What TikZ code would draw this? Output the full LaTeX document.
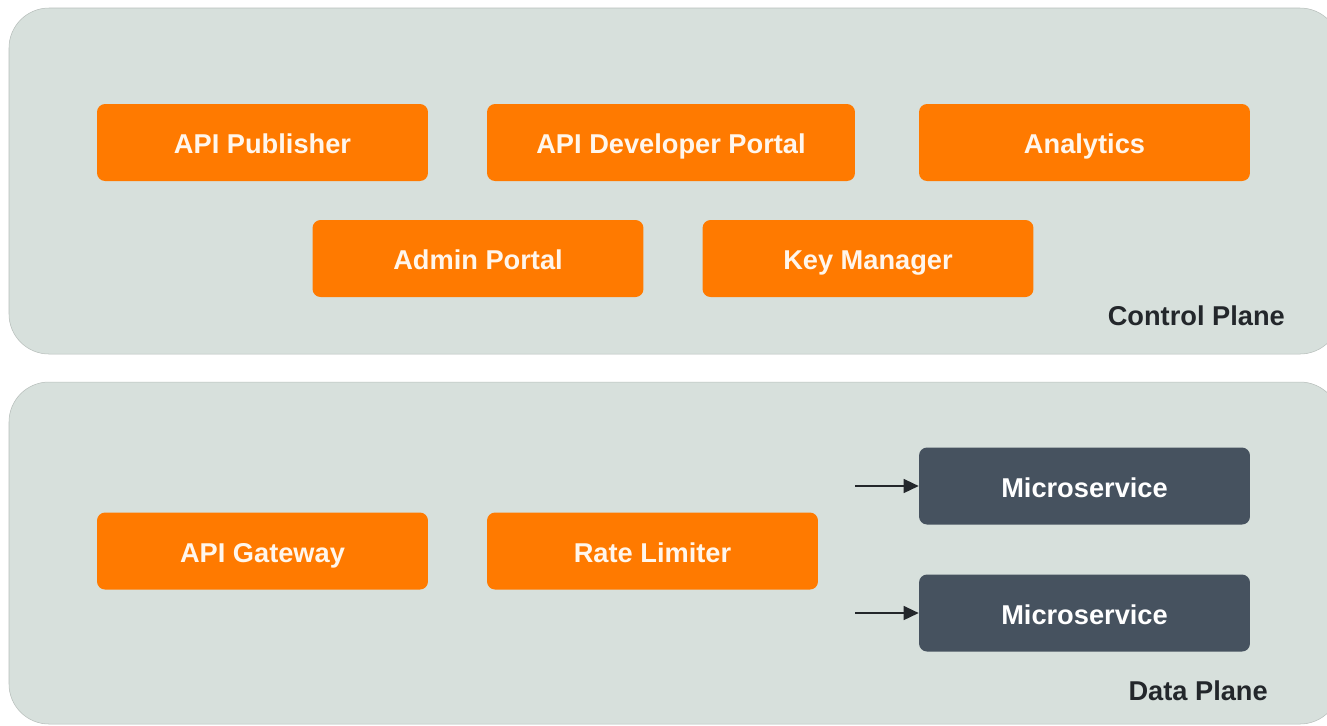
\documentclass[tikz,border=0pt]{standalone}
\usepackage{fontspec}
\setmainfont{Liberation Sans}
\usepackage{tikz}
\usetikzlibrary{arrows.meta}

\definecolor{panelgray}{HTML}{D7E0DC}
\definecolor{apiorange}{HTML}{FF7A00}
\definecolor{slate}{HTML}{46525F}
\definecolor{labelink}{HTML}{23272B}
\definecolor{boxtext}{HTML}{FFF6EC}

\tikzset{
    plane/.style={fill=panelgray, draw=panelgray!85!black, line width=0.3pt, rounded corners=0.8cm},
    compbox/.style={fill=apiorange, rounded corners=0.16cm, minimum width=6.62cm, minimum height=1.54cm,
        text=boxtext, font=\fontsize{15.5}{18}\selectfont\bfseries, text height=13pt, text depth=0pt},
    svcbox/.style={compbox, fill=slate, text=white},
    planelabel/.style={text=labelink, font=\fontsize{15.5}{18}\selectfont\bfseries, anchor=east},
    feed/.style={labelink, line width=0.8pt, -{Triangle[length=3mm, width=2.8mm]}}
}

\begin{document}
\begin{tikzpicture}[x=0.02cm, y=-0.02cm]
            \useasboundingbox (0, 0) rectangle (1327, 725);
            \clip (0, 0) rectangle (1327, 725);
            % the two planes
            \path[plane] (9, 8) rectangle (1340, 354);
            \path[plane] (9, 382) rectangle (1340, 724);

            % control plane
            \node[compbox] (pub) at (262.5, 142.5) {API Publisher};
            \node[compbox, minimum width=7.36cm] (devportal) at (671, 142.5) {API Developer Portal};
            \node[compbox] (analytics) at (1084.5, 142.5) {Analytics};
            \node[compbox] (admin) at (478, 258.5) {Admin Portal};
            \node[compbox] (keymgr) at (868, 258.5) {Key Manager};
            \node[planelabel] (ctrl) at (1291, 316) {Control Plane};

            % data plane
            \node[compbox] (gateway) at (262.5, 551) {API Gateway};
            \node[compbox] (ratelim) at (652.5, 551) {Rate Limiter};
            \node[svcbox] (ms1) at (1084.5, 486) {Microservice};
            \node[svcbox] (ms2) at (1084.5, 613) {Microservice};
            \node[planelabel] (data) at (1274, 691) {Data Plane};

            \coordinate (in1) at (855, 486);
            \coordinate (in2) at (855, 613);
            \draw[feed] (in1) -- (ms1);
            \draw[feed] (in2) -- (ms2);
        \end{tikzpicture}
\end{document}
